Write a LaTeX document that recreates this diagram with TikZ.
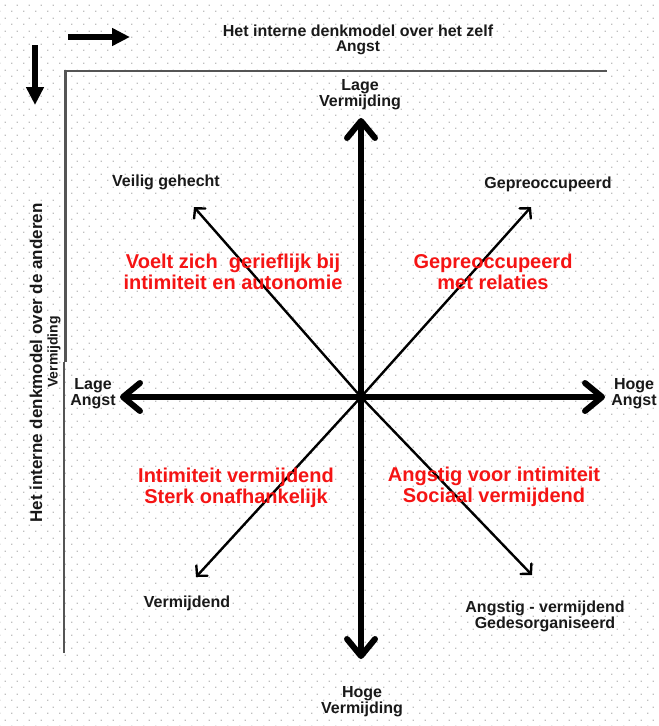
\documentclass[tikz,border=0pt]{standalone}
\usepackage{fontspec}
\setmainfont{Liberation Sans}
\usetikzlibrary{arrows.meta,patterns}
\pgfdeclarepatternformonly{gridots}{\pgfpointorigin}{\pgfpoint{12pt}{13pt}}{\pgfpoint{12pt}{13pt}}{%
  \pgfpathrectangle{\pgfpoint{0pt}{0pt}}{\pgfpoint{1.4pt}{1.4pt}}%
  \pgfpathrectangle{\pgfpoint{6pt}{6.5pt}}{\pgfpoint{1.4pt}{1.4pt}}%
  \pgfusepath{fill}}
\definecolor{redtxt}{RGB}{245,20,20}
\definecolor{labtxt}{RGB}{25,25,25}
\definecolor{framec}{RGB}{85,85,85}
\tikzset{
  lab/.style={inner sep=0pt, align=center, text=labtxt, font=\fontsize{16}{16}\selectfont\bfseries},
  redlab/.style={inner sep=0pt, align=center, text=redtxt, font=\fontsize{20}{20.5}\selectfont\bfseries},
  bigarrow/.style={line width=6pt, line cap=round, {Straight Barb[length=17pt,width=28pt,line cap=round,line join=round]}-{Straight Barb[length=17pt,width=28pt,line cap=round,line join=round]}},
  thinarrow/.style={line width=2.4pt, -{Straight Barb[length=7pt,width=15pt,line cap=round]}},
  keyarrow/.style={line width=6pt, -{Triangle[length=18pt,width=17pt]}},
  framel/.style={line width=2.4pt, draw=framec}
}
\begin{document}
\begin{tikzpicture}[x=1pt,y=-1pt]
\useasboundingbox (0,0) rectangle (659,726);
\fill[white] (0,0) rectangle (659,726);
\fill[pattern=gridots, pattern color=black!25] (0,0) rectangle (659,726);

% key arrows
\coordinate (ka1) at (68,37);
\coordinate (ka2) at (130,37);
\coordinate (kb1) at (35,45);
\coordinate (kb2) at (35,105);
\draw[keyarrow] (ka1) -- (ka2);
\draw[keyarrow] (kb1) -- (kb2);

% titles
\node[lab] (title1) at (358,31) {Het interne denkmodel over het zelf};
\node[lab, font=\fontsize{15.5}{15.5}\selectfont\bfseries] (title2) at (358,48) {Angst};
\node[lab, rotate=90, font=\fontsize{17}{17}\selectfont\bfseries] (vt1) at (36,363) {Het interne denkmodel over de anderen};
\node[lab, rotate=90, font=\fontsize{14}{14}\selectfont\bfseries] (vt2) at (54,352) {Vermijding};

% frame
\draw[framel] (64,71) -- (607,71);
\draw[framel] (65.5,71) -- (65.5,362);
\draw[framel] (64,362) -- (64,653);

% axes
\coordinate (c) at (361,397);
\coordinate (top) at (361,118);
\coordinate (bot) at (361,659);
\coordinate (lft) at (120,397);
\coordinate (rgt) at (605,397);
\draw[bigarrow] (bot) -- (top);
\draw[bigarrow] (lft) -- (rgt);

% diagonals
\coordinate (tUL) at (194,207);
\coordinate (tUR) at (531,207);
\coordinate (tLL) at (196,577);
\coordinate (tLR) at (532,575);
\draw[thinarrow] (c) -- (tUL);
\draw[thinarrow] (c) -- (tUR);
\draw[thinarrow] (c) -- (tLL);
\draw[thinarrow] (c) -- (tLR);

% axis labels
\node[lab] (lageV) at (360,95) {Lage\\Vermijding};
\node[lab] (hogeV) at (362,702) {Hoge\\Vermijding};
\node[lab] (lageA) at (93,394) {Lage\\Angst};
\node[lab] (hogeA) at (634,394) {Hoge\\Angst};

% corner labels
\node[lab] (veilig) at (166,182) {Veilig gehecht};
\node[lab] (gepre) at (548,184) {Gepreoccupeerd};
\node[lab] (verm) at (187,603) {Vermijdend};
\node[lab] (angverm) at (545,616) {Angstig - vermijdend\\Gedesorganiseerd};

% red descriptions
\node[redlab] (q1) at (233,272) {Voelt zich\ \ gerieflijk bij\\intimiteit en autonomie};
\node[redlab] (q2) at (493,272) {Gepreoccupeerd\\met relaties};
\node[redlab] (q3) at (236,488) {Intimiteit vermijdend\\Sterk onafhankelijk};
\node[redlab] (q4) at (494,487) {Angstig voor intimiteit\\Sociaal vermijdend};
\end{tikzpicture}
\end{document}
